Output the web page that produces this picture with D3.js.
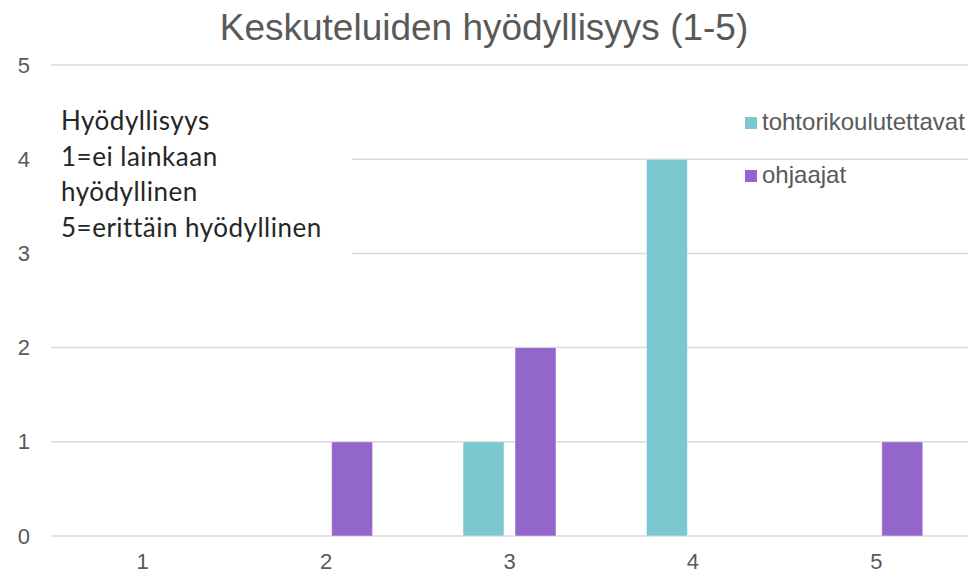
<!DOCTYPE html>
<html>
<head>
<meta charset="utf-8">
<script src="https://cdn.jsdelivr.net/npm/d3@7"></script>
<style>
  body { margin: 0; background: #fff; }
  svg { display: block; }
</style>
</head>
<body>
<div id="chart"></div>
<script>
const categories = ['1', '2', '3', '4', '5'];
const seriesNames = ['tohtorikoulutettavat', 'ohjaajat'];
const tohtorikoulutettavat = [0, 0, 1, 4, 0];
const ohjaajat = [0, 1, 2, 0, 1];
const yTicks = [0, 1, 2, 3, 4, 5];
const title = 'Keskuteluiden hyödyllisyys (1-5)';
const noteLines = ['Hyödyllisyys', '1=ei lainkaan', 'hyödyllinen', '5=erittäin hyödyllinen'];
const colors = ['#7bc8d1', '#9366cb'];

const W = 980, H = 574;
const margin = {top: 65, right: 12, bottom: 38, left: 51};
const width = W - margin.left - margin.right;
const height = H - margin.top - margin.bottom;
const sans = 'Arial, "Liberation Sans", Helvetica, sans-serif';

const svg = d3.select('#chart')
  .append('svg')
    .attr('width', W)
    .attr('height', H);

svg.append('text')
  .attr('x', 484)
  .attr('y', 40)
  .attr('text-anchor', 'middle')
  .attr('font-family', sans)
  .attr('font-size', 37)
  .style('fill', '#595959')
  .text(title);

const g = svg.append('g')
  .attr('transform', `translate(${margin.left},${margin.top})`);

const x = d3.scaleBand()
  .domain(categories)
  .range([0, width])
  .padding(0);

const y = d3.scaleLinear()
  .domain([0, 5])
  .range([height, 0]);

// gridlines
g.append('g')
  .selectAll('line')
  .data(yTicks)
  .enter()
  .append('line')
    .attr('x1', 0)
    .attr('x2', width)
    .attr('y1', d => y(d))
    .attr('y2', d => y(d))
    .style('stroke', '#d9d9d9')
    .style('stroke-width', 1.5);

// y axis labels
const yAxis = g.append('g')
  .call(d3.axisLeft(y).tickValues(yTicks).tickFormat(d3.format('d')).tickSize(0).tickPadding(21));
yAxis.select('.domain').remove();
yAxis.selectAll('text')
  .attr('font-family', sans)
  .attr('font-size', 22)
  .style('fill', '#595959');

// x axis labels
const xAxis = g.append('g')
  .attr('transform', `translate(0,${height})`)
  .call(d3.axisBottom(x).tickSize(0).tickPadding(17));
xAxis.select('.domain').remove();
xAxis.selectAll('text')
  .attr('font-family', sans)
  .attr('font-size', 22)
  .style('fill', '#595959');

// white box behind the note
g.append('rect')
  .attr('x', 0)
  .attr('y', 100 - margin.top)
  .attr('width', 301)
  .attr('height', 157)
  .style('fill', '#fff');

// bars
const barW = 41;
const offset = 26;
const series = [tohtorikoulutettavat, ohjaajat];
series.forEach((vals, si) => {
  g.selectAll(null)
    .data(vals.map((v, i) => ({cat: categories[i], v})).filter(d => d.v > 0))
    .enter()
    .append('rect')
      .attr('x', d => x(d.cat) + x.bandwidth() / 2 + (si === 0 ? -offset : offset) - barW / 2)
      .attr('y', d => y(d.v))
      .attr('width', barW)
      .attr('height', d => y(0) - y(d.v))
      .style('fill', colors[si])
      .style('stroke', '#ffffff')
      .style('stroke-opacity', 0.5)
      .style('stroke-width', 1);
});

// note text
svg.append('g')
  .selectAll('text')
  .data(noteLines)
  .enter()
  .append('text')
    .attr('x', 61)
    .attr('y', (d, i) => 130 + i * 35.5)
    .attr('font-family', 'Lato, "Open Sans", sans-serif')
    .attr('font-size', 26)
    .style('letter-spacing', '0.5px')
    .style('fill', '#262626')
    .text(d => d);

// legend
const legend = svg.append('g')
  .selectAll('g')
  .data(seriesNames)
  .enter()
  .append('g')
    .attr('transform', (d, i) => `translate(745,${117 + i * 53})`);
legend.append('rect')
  .attr('width', 12)
  .attr('height', 12)
  .style('fill', (d, i) => colors[i]);
legend.append('text')
  .attr('x', 17)
  .attr('y', 13)
  .attr('font-family', sans)
  .attr('font-size', 24)
  .style('fill', '#595959')
  .text(d => d);
</script>
</body>
</html>
